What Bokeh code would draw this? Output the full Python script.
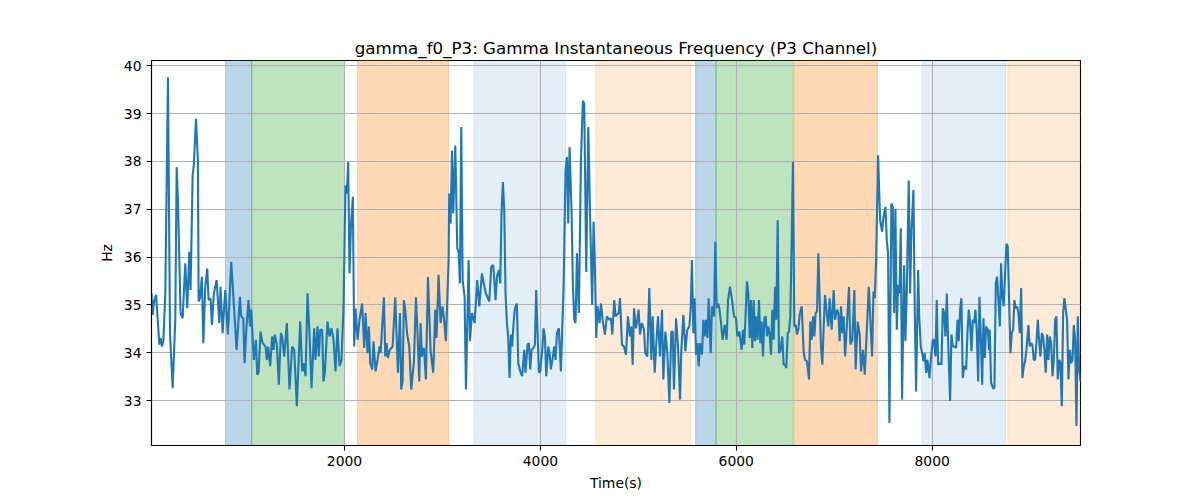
import numpy as np
from bokeh.plotting import figure
from bokeh.models import Range1d, FixedTicker, BoxAnnotation
from bokeh.embed import file_html
from bokeh.resources import INLINE

# ---------------- data ----------------
time_a = [29, 41, 54, 75, 95, 109, 122, 136, 150, 170, 197, 218, 245, 272, 286, 299, 326, 347, 374, 394,
          415, 428, 449, 462, 483, 503, 510, 524, 544, 558, 578, 598, 612, 632, 646, 666, 694, 721, 734, 755,
          782, 809, 843, 870, 898, 932, 945, 966, 979, 1000, 1020, 1034, 1047, 1074, 1095, 1108, 1122, 1142, 1163]
hz_a = [35.24, 34.79, 35.07, 35.21, 34.62, 34.17, 34.31, 34.13, 34.24, 35.24, 39.76, 34.41, 33.26, 34.69, 37.88, 37.19, 34.83, 34.72, 35.87, 34.93,
        36.11, 35.31, 37.71, 37.95, 38.89, 38.02, 35.07, 35.14, 35.59, 34.20, 35.38, 35.76, 35.10, 35.14, 34.58, 35.24, 35.52, 34.62, 35.38, 34.41,
        35.31, 34.38, 35.90, 35.0, 34.06, 35.17, 34.76, 34.72, 33.78, 34.58, 35.10, 34.55, 34.90, 33.85, 34.27, 33.54, 33.58, 34.44, 34.20]

time_b = [1193, 1207, 1220, 1241, 1261, 1275, 1288, 1309, 1329, 1350, 1363, 1384, 1411, 1438, 1465, 1486, 1513, 1547, 1568, 1581,
          1602, 1622, 1642, 1663, 1690, 1704, 1724, 1738, 1751, 1772, 1785, 1799, 1826, 1847, 1867, 1888, 1908, 1928, 1949, 1969,
          1990, 2010, 2024, 2037, 2051, 2065, 2085, 2099, 2112, 2133, 2153, 2180, 2201, 2215, 2235, 2249, 2262, 2283, 2296, 2317,
          2337, 2357]
hz_b = [34.13, 33.85, 34.13, 33.72, 34.34, 34.06, 34.38, 34.17, 33.33, 34.41, 34.34, 33.92, 34.62, 33.23, 34.13, 34.06, 32.88, 34.65, 33.61, 33.78,
        33.51, 35.24, 34.41, 33.26, 34.51, 33.85, 34.55, 33.92, 34.48, 34.48, 33.40, 33.58, 34.65, 34.34, 34.51, 34.27, 33.61, 34.51, 33.72, 33.85,
        34.97, 37.50, 37.33, 37.99, 35.66, 36.63, 37.26, 34.13, 34.93, 34.27, 34.69, 35.03, 34.10, 34.83, 33.99, 34.55, 33.78, 33.65, 34.24, 33.61,
        33.85, 34.13]

time_c = [2368, 2402, 2416, 2429, 2443, 2463, 2491, 2518, 2545, 2566, 2579, 2593, 2606, 2620, 2640, 2661, 2681, 2709, 2729, 2743,
          2763, 2777, 2790, 2811, 2831, 2852, 2879, 2906, 2926, 2940, 2960, 2981, 3001, 3015, 3035, 3063, 3069, 3083, 3097, 3110,
          3131, 3151, 3165, 3178, 3192, 3206, 3226, 3240, 3267, 3281, 3301, 3328, 3355, 3376, 3403, 3424, 3444, 3458, 3478, 3498,
          3519]
hz_c = [33.99, 35.16, 33.92, 34.20, 33.89, 34.06, 34.13, 35.16, 33.58, 34.83, 33.23, 33.40, 35.10, 34.90, 34.38, 34.13, 33.23, 33.82, 35.16, 34.55,
        33.40, 34.62, 33.92, 34.10, 33.44, 35.59, 34.03, 33.58, 34.90, 34.31, 35.63, 34.62, 34.97, 34.72, 34.24, 35.94, 37.33, 36.70, 38.23, 36.91,
        38.33, 36.18, 36.11, 35.45, 38.72, 35.52, 35.17, 33.23, 35.94, 34.24, 34.83, 34.62, 35.52, 34.97, 35.66, 35.42, 35.24, 35.17, 35.07, 35.80,
        35.83]

time_d = [3542, 3556, 3576, 3590, 3603, 3617, 3631, 3644, 3658, 3671, 3685, 3699, 3712, 3726, 3740, 3760, 3774, 3794, 3814, 3835,
          3848, 3869, 3883, 3896, 3910, 3930, 3944, 3957, 3971, 3985, 3998, 4019, 4032, 4046, 4060, 4080, 4094, 4107, 4128, 4141,
          4155, 4169, 4189, 4209, 4237, 4257, 4271, 4284, 4298, 4318, 4332, 4346, 4359, 4373, 4393, 4414, 4434, 4448, 4468, 4489,
          4509, 4529, 4543, 4557, 4570, 4584, 4604, 4618, 4638, 4659, 4679, 4700, 4720, 4734, 4754, 4768]
hz_d = [35.10, 35.59, 35.73, 35.45, 36.91, 37.57, 36.98, 35.24, 34.62, 34.34, 33.47, 34.38, 34.13, 34.62, 34.93, 35.03, 33.78, 33.61, 33.51, 34.06,
        33.58, 34.17, 34.20, 33.65, 34.06, 34.10, 34.17, 35.31, 34.41, 33.58, 33.61, 34.06, 34.51, 34.34, 33.51, 34.13, 33.99, 33.65, 33.92, 34.13,
        33.85, 34.41, 34.51, 33.61, 35.38, 37.81, 38.09, 36.70, 38.30, 36.98, 35.38, 34.69, 34.62, 36.08, 34.83, 38.02, 39.27, 39.20, 35.69, 38.72,
        36.70, 35.0, 36.74, 35.80, 34.31, 34.97, 34.62, 35.03, 34.65, 34.38, 34.76, 34.69, 34.72, 34.38, 35.10, 34.76]

time_e = [4799, 4813, 4833, 4853, 4874, 4894, 4915, 4928, 4942, 4956, 4976, 4990, 5003, 5017, 5037, 5058, 5071, 5092, 5112, 5133,
          5146, 5167, 5187, 5201, 5221, 5242, 5255, 5276, 5296, 5317, 5337, 5351, 5364, 5385, 5405, 5426, 5439, 5460, 5480, 5500,
          5521, 5534, 5548, 5562, 5575, 5589, 5603, 5616, 5630, 5650, 5664, 5677, 5691, 5705, 5718, 5739, 5752, 5773, 5786, 5800,
          5814, 5827, 5841, 5861, 5882, 5902, 5916, 5936, 5957, 5977, 5998, 6011, 6032]
hz_e = [34.83, 35.14, 34.17, 34.13, 33.96, 34.76, 34.34, 34.55, 33.75, 34.93, 34.51, 34.69, 34.90, 34.38, 34.62, 34.48, 33.99, 33.92, 35.35, 33.85,
        34.76, 33.58, 34.31, 34.76, 33.92, 34.90, 33.44, 34.44, 33.99, 32.95, 34.44, 34.44, 33.23, 34.72, 34.13, 33.02, 34.06, 34.79, 34.03, 34.48,
        34.55, 34.90, 35.94, 34.41, 35.14, 33.96, 34.20, 33.72, 34.20, 33.96, 34.69, 34.34, 34.69, 34.31, 35.14, 33.99, 34.97, 34.76, 36.32, 34.93,
        35.03, 34.93, 34.69, 34.27, 34.58, 34.27, 35.10, 35.38, 35.10, 34.76, 34.72, 34.34, 34.44]

time_f = [6055, 6069, 6082, 6096, 6109, 6123, 6137, 6150, 6164, 6178, 6191, 6205, 6218, 6232, 6246, 6259, 6273, 6287, 6300, 6314,
          6327, 6341, 6355, 6368, 6382, 6396, 6409, 6423, 6436, 6450, 6470, 6484, 6498, 6511, 6525, 6539, 6552, 6566, 6579, 6593,
          6607, 6620, 6634, 6647, 6668, 6688, 6702, 6722, 6743, 6756, 6770, 6784, 6797, 6811, 6825, 6838, 6852, 6865, 6879, 6893,
          6906, 6927, 6940, 6954, 6974, 6995, 7008, 7029, 7042, 7056, 7070, 7083, 7097, 7111, 7131, 7151, 7165, 7185, 7206, 7219,
          7240, 7260, 7274, 7294]
hz_f = [34.06, 34.48, 34.17, 34.83, 35.49, 35.24, 34.31, 35.10, 34.10, 35.10, 34.24, 34.76, 34.27, 35.10, 34.20, 34.65, 33.92, 34.72, 34.76, 34.34,
        34.55, 34.38, 33.96, 34.90, 34.27, 35.38, 34.69, 36.77, 33.99, 34.03, 34.34, 33.75, 33.75, 33.68, 34.41, 34.44, 34.76, 36.35, 37.99, 34.55,
        34.58, 34.38, 34.48, 34.79, 34.97, 34.03, 33.85, 33.82, 33.44, 34.65, 34.27, 34.76, 34.34, 34.83, 34.86, 36.08, 35.10, 34.13, 33.75, 34.55,
        35.21, 34.76, 34.55, 35.14, 34.48, 35.31, 34.69, 34.90, 34.83, 34.24, 34.97, 34.41, 34.76, 33.92, 34.62, 35.38, 34.17, 34.27, 35.31, 33.65,
        34.65, 34.38, 33.61, 34.06]

time_g = [7312, 7332, 7353, 7366, 7387, 7401, 7414, 7428, 7448, 7469, 7489, 7503, 7523, 7537, 7550, 7564, 7584, 7598, 7612, 7625,
          7639, 7653, 7666, 7680, 7693, 7714, 7727, 7741, 7761, 7775, 7789, 7809, 7823, 7836, 7857, 7870, 7884, 7898, 7911, 7925,
          7939, 7952, 7973, 7986, 8007, 8020, 8034, 8047, 8061, 8082, 8095, 8109, 8122, 8136, 8150, 8163, 8184, 8197, 8211, 8231,
          8245, 8259, 8272, 8286, 8299, 8313, 8327, 8347, 8361, 8374, 8388, 8402, 8415, 8429, 8442, 8456, 8470, 8483, 8497, 8511,
          8524, 8538, 8551]
hz_g = [33.54, 34.41, 35.38, 34.83, 33.92, 35.28, 35.14, 35.94, 38.13, 36.77, 36.53, 36.84, 37.05, 36.35, 36.08, 32.53, 37.12, 37.05, 34.83, 37.01,
        34.48, 35.42, 35.24, 36.60, 33.02, 35.83, 34.24, 35.24, 37.60, 35.24, 36.56, 37.40, 34.83, 33.19, 35.73, 34.69, 34.13, 33.99, 33.82, 33.99,
        33.58, 33.85, 33.47, 33.85, 34.27, 34.27, 33.92, 35.10, 33.75, 33.78, 33.75, 34.93, 34.83, 34.34, 35.24, 34.27, 32.99, 34.38, 34.13, 34.13,
        34.10, 34.69, 34.24, 34.90, 35.14, 33.47, 33.72, 33.65, 34.41, 34.90, 34.62, 34.03, 34.69, 34.62, 34.90, 34.44, 33.40, 35.17, 34.34, 33.33,
        34.72, 33.89, 34.55]

time_h = [8568, 8582, 8588, 8602, 8622, 8636, 8650, 8663, 8677, 8691, 8704, 8718, 8731, 8745, 8759, 8772, 8786, 8800, 8813, 8827,
          8840, 8854, 8868, 8881, 8895, 8909, 8922, 8936, 8949, 8963, 8983, 8997, 9011, 9024, 9038, 9051, 9065, 9079, 9092, 9106,
          9120, 9133, 9147, 9160, 9174, 9188, 9201, 9215, 9229, 9242, 9256, 9269, 9283, 9297, 9310, 9324, 9338, 9351, 9365, 9378,
          9392, 9406, 9419, 9433, 9447, 9460, 9474, 9487, 9501, 9515]
hz_h = [34.48, 34.06, 34.48, 33.37, 33.26, 33.26, 35.45, 35.59, 35.10, 34.55, 35.87, 35.17, 34.97, 35.66, 36.28, 36.22, 35.10, 33.99, 34.41, 34.48,
        35.10, 34.93, 34.97, 34.83, 34.41, 35.35, 33.47, 33.72, 33.82, 34.06, 34.58, 34.13, 34.20, 34.17, 33.85, 33.85, 34.20, 34.69, 34.27, 33.92,
        34.41, 34.34, 34.03, 33.58, 34.38, 33.85, 34.34, 34.20, 33.51, 33.85, 34.69, 34.76, 33.44, 33.85, 33.78, 32.88, 34.83, 35.14, 34.90, 34.69,
        33.44, 34.06, 33.78, 33.85, 34.58, 34.27, 32.47, 34.76, 33.65, 33.40]

# shaded stage intervals (seconds)
band_start = [785, 1053, 2133, 3321, 4564, 5585, 5793, 6590, 7897, 8772]
band_end = [1053, 2000, 3062, 4257, 5536, 5793, 6582, 7441, 8752, 9600]
band_color = ["#1f77b4", "#2ca02c", "#ff7f0e", "#1f77b4", "#ff7f0e",
              "#1f77b4", "#2ca02c", "#ff7f0e", "#1f77b4", "#ff7f0e"]
band_alpha = [0.3, 0.3, 0.3, 0.12, 0.16, 0.3, 0.3, 0.3, 0.12, 0.16]

x_ticks = [2000, 4000, 6000, 8000]
y_ticks = [33, 34, 35, 36, 37, 38, 39, 40]
x_limits = (29, 9515)
y_limits = (32.06, 40.11)

title_text = "gamma_f0_P3: Gamma Instantaneous Frequency (P3 Channel)"
x_label = "Time(s)"
y_label = "Hz"

# ---------------- figure ----------------
times = np.concatenate([time_a, time_b, time_c, time_d, time_e, time_f, time_g, time_h])
values = np.concatenate([hz_a, hz_b, hz_c, hz_d, hz_e, hz_f, hz_g, hz_h])

FONT = "DejaVu Sans"

p = figure(frame_width=929, frame_height=385,
           min_border_left=151, min_border_right=112,
           min_border_top=60, min_border_bottom=39,
           x_range=Range1d(*x_limits), y_range=Range1d(*y_limits),
           output_backend="svg", toolbar_location=None,
           title=title_text)

p.background_fill_color = "white"
p.border_fill_color = "white"
p.outline_line_color = "black"
p.outline_line_width = 1.1

p.title.text_font = FONT
p.title.text_font_size = "16.7px"
p.title.text_font_style = "normal"
p.title.align = "center"
p.title.text_color = "black"
p.title.standoff = 6

# bands drawn beneath the grid (grid sits above patches, below the line)
for s, e, c, a in zip(band_start, band_end, band_color, band_alpha):
    p.add_layout(BoxAnnotation(left=s, right=e, fill_color=c, fill_alpha=a,
                               line_color=c, line_alpha=a, line_width=1,
                               level="image"))

p.line(times, values, line_color="#1f77b4", line_width=2.1)

for ax in (p.xaxis[0], p.yaxis[0]):
    ax.axis_line_color = "black"
    ax.axis_line_width = 1.1
    ax.major_tick_line_color = "black"
    ax.major_tick_line_width = 1.1
    ax.major_tick_out = 5
    ax.major_tick_in = 0
    ax.minor_tick_line_color = None
    ax.major_label_text_font = FONT
    ax.major_label_text_font_size = "13.9px"
    ax.major_label_text_color = "black"
    ax.axis_label_text_font = FONT
    ax.axis_label_text_font_size = "13.9px"
    ax.axis_label_text_font_style = "normal"
    ax.axis_label_text_color = "black"
    ax.major_label_standoff = 5
    ax.axis_label_standoff = 6

p.xaxis.ticker = FixedTicker(ticks=x_ticks)
p.yaxis.ticker = FixedTicker(ticks=y_ticks)
p.xaxis.axis_label = x_label
p.yaxis.axis_label = y_label

p.xgrid.ticker = FixedTicker(ticks=x_ticks)
p.ygrid.ticker = FixedTicker(ticks=y_ticks)
for g in (p.xgrid[0], p.ygrid[0]):
    g.grid_line_color = "#b0b0b0"
    g.grid_line_width = 1.1

open("out.html", "w").write(file_html(p, INLINE))
